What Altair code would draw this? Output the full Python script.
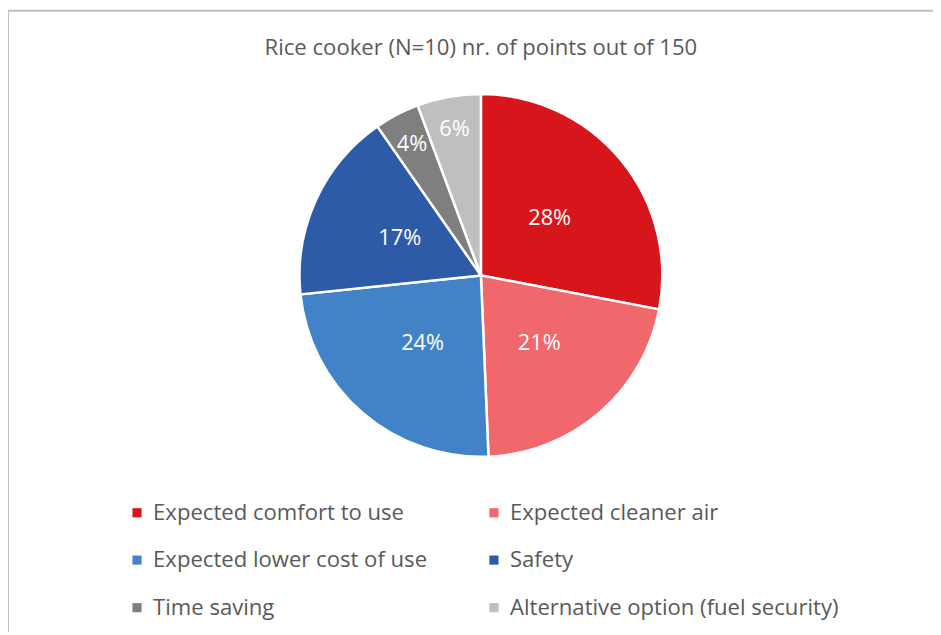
import altair as alt
import pandas as pd

categories = [
    "Expected comfort to use",
    "Expected cleaner air",
    "Expected lower cost of use",
    "Safety",
    "Time saving",
    "Alternative option (fuel security)",
]
points = [42, 32, 36, 25.5, 6, 8.5]
colors = ["#D7161B", "#F0686B", "#4283C7", "#2E5BA8", "#7F7F7F", "#BFBFBF"]
title_text = "Rice cooker (N=10) nr. of points out of 150"

df = pd.DataFrame({"factor": categories, "points": points, "order": list(range(len(categories)))})

W, H = 933, 627
CX, CY = 477, 267
R = 183
FONT = "Open Sans"

color = alt.Color(
    "factor:N",
    scale=alt.Scale(domain=categories, range=colors),
    sort=categories,
    legend=alt.Legend(
        title=None,
        orient="none",
        direction="horizontal",
        legendX=119,
        legendY=495,
        columns=2,
        columnPadding=56,
        rowPadding=25,
        symbolType="square",
        symbolSize=85,
        symbolStrokeWidth=0,
        labelFont=FONT,
        labelFontSize=22.3,
        labelColor="#595959",
        labelOffset=5,
        labelLimit=450,
    ),
)

arcs = alt.Chart(df).mark_arc(outerRadius=R, stroke="white", strokeWidth=2.5).encode(
    theta=alt.Theta("points:Q", stack=True),
    order=alt.Order("order:Q"),
    color=color,
    x=alt.value(CX),
    y=alt.value(CY),
)

labels = alt.Chart(df).transform_joinaggregate(
    total="sum(points)"
).transform_window(
    cum="sum(points)", sort=[alt.SortField("order")]
).transform_calculate(
    pct="datum.points / datum.total",
    mid="(datum.cum - datum.points / 2) / datum.total * 2 * PI",
    lr="datum.points / datum.total < 0.1 ? 150 : 90",
).mark_text(
    font=FONT, fontSize=22, color="white", align="center", baseline="middle"
).encode(
    theta=alt.Theta("mid:Q", scale=None, stack=False),
    radius=alt.Radius("lr:Q", scale=None),
    text=alt.Text("pct:Q", format=".0%"),
    x=alt.value(CX),
    y=alt.value(CY),
)

title = alt.Chart(pd.DataFrame({"t": [title_text]})).mark_text(
    font=FONT, fontSize=22.3, color="#595959", align="center", baseline="middle"
).encode(text="t:N", x=alt.value(CX), y=alt.value(38))

frame = pd.DataFrame({"a": [0]})
left_line = alt.Chart(frame).mark_rule(color="#BFBFBF", strokeWidth=2).encode(
    x=alt.value(0), y=alt.value(0), y2=alt.value(H)
)
top_line = alt.Chart(frame).mark_rule(color="#BFBFBF", strokeWidth=2).encode(
    y=alt.value(0), x=alt.value(0), x2=alt.value(W)
)

chart = alt.layer(left_line, top_line, arcs, labels, title).properties(
    width=W, height=H, padding=0,
    autosize=alt.AutoSizeParams(type="none"),
).configure_view(stroke=None)

chart.save("out.html", embed_options={"renderer": "svg", "actions": False})
